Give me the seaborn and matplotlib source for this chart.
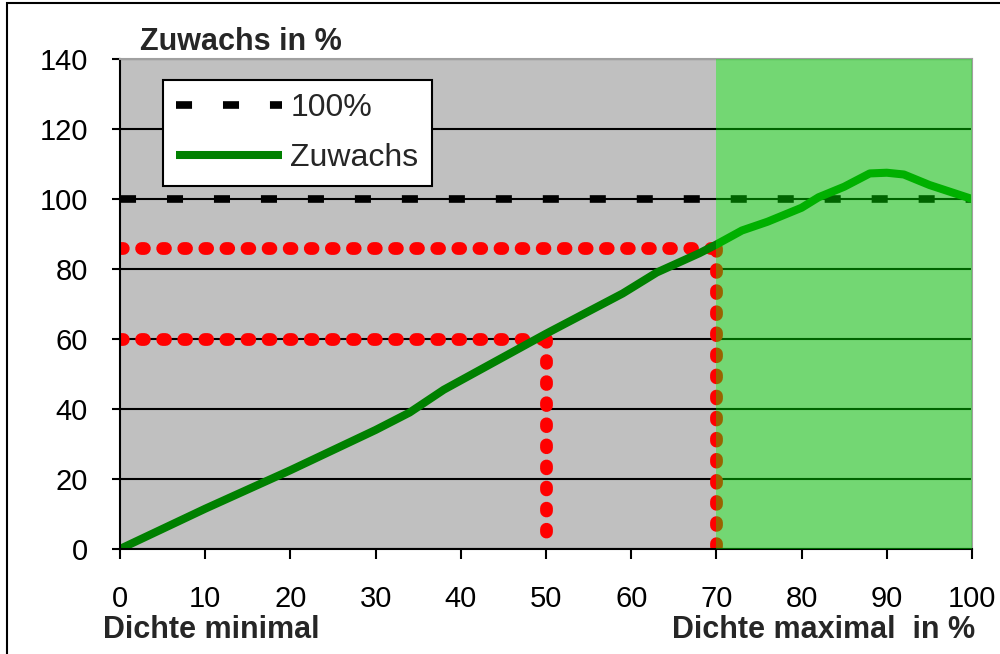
import matplotlib
matplotlib.use("Agg")
import matplotlib.pyplot as plt
import matplotlib.patches as mpatches
import numpy as np
import pandas as pd
import seaborn as sns

# Growth curve: density (% of maximum) vs. growth (%)
dichte = [0, 10, 20, 30, 34, 38, 44, 50, 59, 63, 68, 70, 73, 76, 80, 82, 85, 88, 90, 92, 95, 100]
zuwachs = [0, 11.5, 22.5, 34, 39, 45.5, 53.5, 61.5, 73, 79, 84.5, 87, 91, 93.5, 97.5, 100.5,
           103.5, 107.3, 107.5, 107, 104, 100]

# Reference level
referenz_x = [0, 100]
referenz_y = [100, 100]

# Read-off points (density, growth) marked with dotted guide lines
ablese_dichte = [50, 70]
ablese_zuwachs = [60, 86]

# Optimal density range
optimum_start = 70
optimum_ende = 100

x_ticks = list(range(0, 101, 10))
y_ticks = list(range(0, 141, 20))

sns.set_style("white")
plt.rcParams["font.family"] = ["Liberation Sans", "DejaVu Sans"]

fig = plt.figure(figsize=(10, 6.54), dpi=100)
ax = fig.add_axes([0.12, 0.1606, 0.852, 0.7492])
ax.set_facecolor("#c0c0c0")

dot_style = dict(color="#ff0000", lw=9.2, linestyle=(0, (0.22, 1.43)), zorder=2.2,
                 dash_capstyle="round", sort=False)

# Dotted read-off guides: horizontal to the curve, vertical down to the axis
for dx, zy in zip(ablese_dichte, ablese_zuwachs):
    seg_h = pd.DataFrame({"x": [0, dx], "y": [zy, zy]})
    seg_v = pd.DataFrame({"x": [dx, dx], "y": [zy, 0]})
    sns.lineplot(data=seg_h, x="x", y="y", ax=ax, orient="x", **dot_style)
    sns.lineplot(data=seg_v, x="x", y="y", ax=ax, orient="y", **dot_style)

# 100% reference line
sns.lineplot(x=referenz_x, y=referenz_y, ax=ax, color="black", lw=5.5,
             linestyle=(0, (2.1, 4.05)), label="100%", zorder=2.3,
             dash_capstyle="butt")

# Growth curve
sns.lineplot(x=dichte, y=zuwachs, ax=ax, color="#008000", lw=5.8,
             label="Zuwachs", zorder=2.4, sort=False, solid_capstyle="butt")

# Optimal range overlay
ax.axvspan(optimum_start, optimum_ende, color="#00fa00", alpha=0.4, lw=0, zorder=3)

ax.set_xlim(0, 100)
ax.set_ylim(0, 140)
ax.set_xticks(x_ticks)
ax.set_yticks(y_ticks)
ax.set_xlabel("")
ax.set_ylabel("")

ax.yaxis.grid(True, color="black", lw=1.5, zorder=1)
ax.xaxis.grid(False)
ax.set_axisbelow(True)

for side in ("left", "bottom"):
    ax.spines[side].set_color("black")
    ax.spines[side].set_linewidth(1.5)
for side in ("top", "right"):
    ax.spines[side].set_color("#a0a0a0")
    ax.spines[side].set_linewidth(1.5)

ax.tick_params(axis="y", direction="out", length=6, width=1.5, pad=17,
               labelsize=21, left=True, colors="black")
ax.tick_params(axis="x", direction="out", length=7, width=1.5, pad=19,
               labelsize=21, bottom=True, colors="black")

leg = ax.legend(loc="upper left", bbox_to_anchor=(0.0505, 0.957), borderaxespad=0,
                fontsize=23, handlelength=3.3, handletextpad=0.28, borderpad=0.41,
                labelspacing=0.62, fancybox=False, framealpha=1, edgecolor="black")
leg.get_frame().set_linewidth(1.5)
leg.set_zorder(5)

fig.text(0.14, 1 - 42 / 654, "Zuwachs in %", fontsize=22, fontweight="bold",
         ha="left", va="center")
fig.text(0.103, 1 - 630 / 654, "Dichte minimal", fontsize=22, fontweight="bold",
         ha="left", va="center")
fig.text(0.975, 1 - 630 / 654, "Dichte maximal  in %", fontsize=22, fontweight="bold",
         ha="right", va="center")

# Outer frame
fig.patches.append(mpatches.Rectangle((0.007, -0.1), 1.2, 1.0954, transform=fig.transFigure,
                                      fill=False, edgecolor="black", lw=1.5))

fig.savefig("out.png", dpi=100)
